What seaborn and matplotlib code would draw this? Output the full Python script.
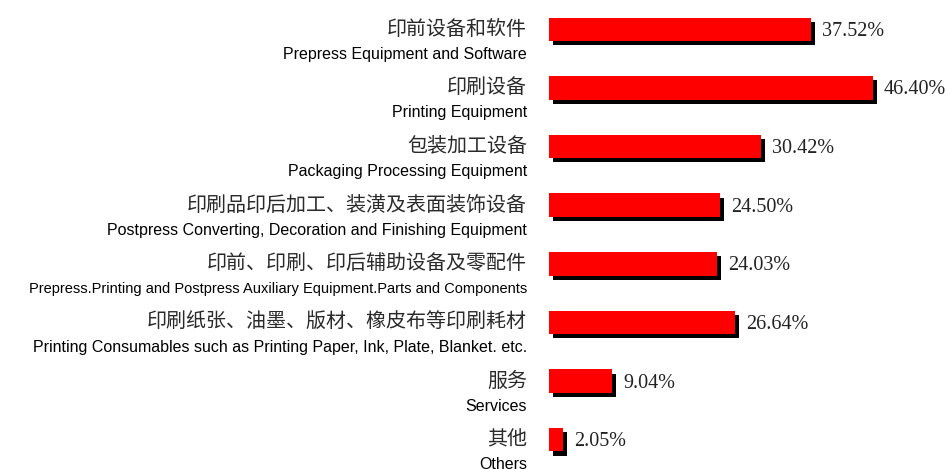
import matplotlib
matplotlib.use("Agg")
import matplotlib.pyplot as plt
import matplotlib.patheffects as pe
import seaborn as sns
import pandas as pd

# Exhibitor categories (Chinese / English) and their shares
labels_cn = [
    "印前设备和软件",
    "印刷设备",
    "包装加工设备",
    "印刷品印后加工、装潢及表面装饰设备",
    "印前、印刷、印后辅助设备及零配件",
    "印刷纸张、油墨、版材、橡皮布等印刷耗材",
    "服务",
    "其他",
]
labels_en = [
    "Prepress Equipment and Software",
    "Printing Equipment",
    "Packaging Processing Equipment",
    "Postpress Converting, Decoration and Finishing Equipment",
    "Prepress.Printing and Postpress Auxiliary Equipment.Parts and Components",
    "Printing Consumables such as Printing Paper, Ink, Plate, Blanket. etc.",
    "Services",
    "Others",
]
shares = [37.52, 46.40, 30.42, 24.50, 24.03, 26.64, 9.04, 2.05]

df = pd.DataFrame({"category": labels_cn, "share": shares})

sns.set_theme(style="white")
plt.rcParams["font.family"] = ["Noto Sans CJK SC", "DejaVu Sans"]

fig = plt.figure(figsize=(9.47, 4.69), dpi=100)
ax = fig.add_axes([549 / 947, 0, 349 / 947, 1])

sns.barplot(data=df, x="share", y="category", orient="h", color="#ff0000",
            saturation=1, width=0.4, ax=ax)

# drop shadow behind every bar
for bar in ax.patches:
    bar.set_edgecolor("none")
    bar.set_path_effects([
        pe.SimplePatchShadow(offset=(3, -3), shadow_rgbFace="black", alpha=1.0),
        pe.Normal(),
    ])

ax.set_xlim(0, 50)
ax.set_ylim(7.5, -0.5)
ax.set_axis_off()

for i, (cn, en, v) in enumerate(zip(labels_cn, labels_en, shares)):
    ax.annotate(cn, xy=(0, i), xytext=(-22, 0), textcoords="offset pixels",
                ha="right", va="center", fontsize=14.4, color="#2a2a2a",
                family=["Noto Sans CJK SC", "DejaVu Sans"], weight="light",
                annotation_clip=False)
    en_size = 10.5 if len(en) > 70 else 11.5
    ax.annotate(en, xy=(0, i), xytext=(-22, -25), textcoords="offset pixels",
                ha="right", va="center", fontsize=en_size, color="black",
                family="Liberation Sans", annotation_clip=False)
    ax.annotate(f"{v:.2f}%", xy=(v, i), xytext=(11, -2),
                textcoords="offset pixels", ha="left", va="center",
                fontsize=14.5, color="#222222", family="Liberation Serif",
                annotation_clip=False)

fig.savefig("out.png", dpi=100, facecolor="white")
